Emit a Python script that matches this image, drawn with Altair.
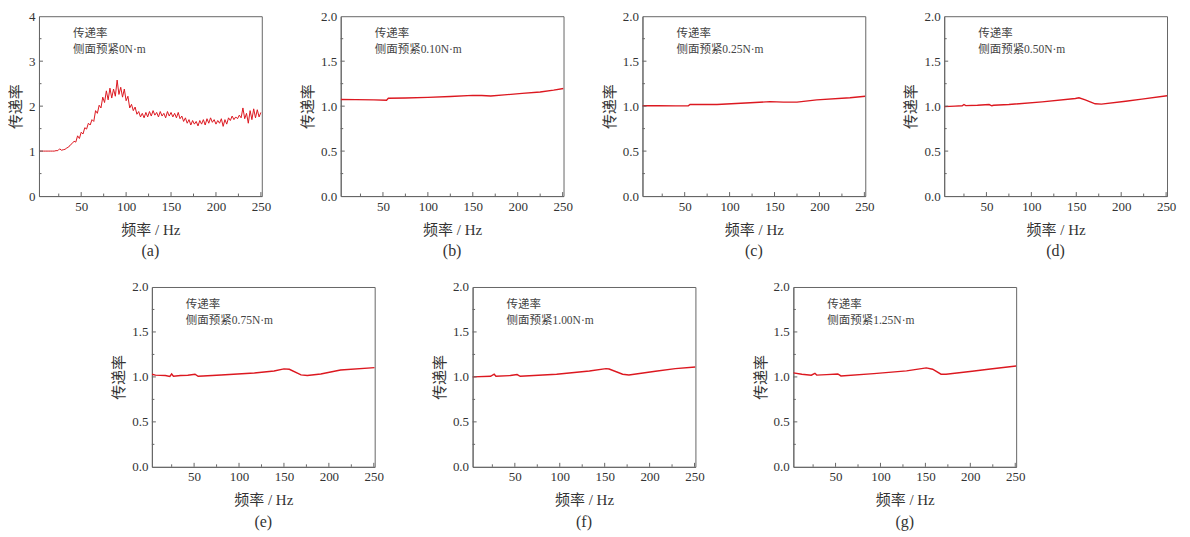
import altair as alt
import pandas as pd

FONT = "Liberation Serif, Noto Sans CJK SC"

# ---------------- data ----------------
fa = list(range(4, 251, 2))
va = [1.00, 1.00, 1.00, 1.00, 1.00, 1.00, 1.00, 1.00, 1.00, 1.01,
      1.01, 1.05, 1.02, 1.03, 1.04, 1.07, 1.09, 1.14, 1.17, 1.22,
      1.20, 1.34, 1.28, 1.42, 1.38, 1.52, 1.49, 1.62, 1.58, 1.70,
      1.66, 1.90, 1.84, 2.02, 1.96, 2.20, 2.08, 2.34, 2.14, 2.40,
      2.18, 2.38, 2.22, 2.58, 2.26, 2.42, 2.20, 2.38, 2.12, 2.22,
      1.96, 2.04, 1.90, 1.98, 1.82, 1.88, 1.76, 1.84, 1.74, 1.86,
      1.76, 1.88, 1.78, 1.90, 1.80, 1.86, 1.76, 1.88, 1.78, 1.84,
      1.74, 1.88, 1.78, 1.86, 1.76, 1.84, 1.74, 1.86, 1.72, 1.78,
      1.66, 1.74, 1.62, 1.70, 1.58, 1.68, 1.60, 1.66, 1.56, 1.68,
      1.60, 1.70, 1.58, 1.72, 1.62, 1.74, 1.64, 1.70, 1.60, 1.68,
      1.62, 1.72, 1.55, 1.70, 1.60, 1.74, 1.68, 1.78, 1.70, 1.76,
      1.72, 1.80, 1.74, 1.96, 1.72, 1.84, 1.62, 1.90, 1.70, 1.94,
      1.74, 1.92, 1.76, 1.86]

fb = [3, 20, 40, 54, 56, 75, 100, 125, 150, 160, 170, 185, 205, 225, 240, 251]
vb = [1.074, 1.072, 1.070, 1.066, 1.087, 1.090, 1.098, 1.108, 1.120, 1.118,
      1.113, 1.125, 1.142, 1.158, 1.178, 1.196]

fc = [3, 20, 40, 54, 56, 86, 123, 145, 160, 175, 197, 234, 251]
vc = [1.005, 1.004, 1.003, 1.003, 1.018, 1.018, 1.037, 1.050, 1.045, 1.045,
      1.070, 1.093, 1.110]

fd = [3, 15, 23, 25, 27, 40, 53, 56, 58, 75, 112, 149, 153, 160, 171, 178,
      205, 223, 251]
vd = [0.995, 1.000, 1.004, 1.018, 1.006, 1.010, 1.018, 1.004, 1.010, 1.018,
      1.048, 1.085, 1.093, 1.070, 1.026, 1.022, 1.055, 1.078, 1.115]

fe = [3, 7, 18, 23, 25, 27, 35, 43, 51, 54.5, 60, 80, 117, 139, 150, 156,
      169, 176, 191, 213, 251]
ve = [1.030, 1.020, 1.015, 1.005, 1.033, 1.008, 1.015, 1.018, 1.030, 1.007,
      1.010, 1.022, 1.044, 1.066, 1.089, 1.085, 1.022, 1.015, 1.033, 1.077,
      1.103]

ff = [3, 23, 27, 29, 45, 52.5, 56, 96.5, 133, 151.5, 155, 170, 177, 206.5,
      228.6, 251]
vf = [1.000, 1.007, 1.030, 1.008, 1.015, 1.026, 1.007, 1.030, 1.066, 1.092,
      1.088, 1.030, 1.022, 1.063, 1.092, 1.110]

fg = [3, 12.5, 23, 27, 29, 40, 52.5, 56, 92.6, 129, 151, 158, 167.4, 173,
      202, 220, 251]
vg = [1.045, 1.030, 1.019, 1.040, 1.020, 1.025, 1.033, 1.011, 1.037, 1.067,
      1.100, 1.085, 1.030, 1.030, 1.063, 1.085, 1.122]

notes = ["传递率\n侧面预紧0N·m", "传递率\n侧面预紧0.10N·m", "传递率\n侧面预紧0.25N·m",
         "传递率\n侧面预紧0.50N·m", "传递率\n侧面预紧0.75N·m",
         "传递率\n侧面预紧1.00N·m", "传递率\n侧面预紧1.25N·m"]
captions = ["(a)", "(b)", "(c)", "(d)", "(e)", "(f)", "(g)"]

x_major = [50, 100, 150, 200, 250]
x_minor = [25, 75, 125, 175, 225]
y_major_a = [1, 2, 3]
y_minor_a = [0.5, 1.5, 2.5, 3.5]
y_major = [0.5, 1.0, 1.5]
y_minor = [0.25, 0.75, 1.25, 1.75]

W, H = 223, 180
AX = "#666666"
RED = "#dc1820"


def panel(f, v, ymax, ymaj, ymin, yfmt, note, cap, sw):
    xs = alt.Scale(domain=[3, 251], nice=False, zero=False)
    ys = alt.Scale(domain=[0, ymax], nice=False, zero=True)
    xax = alt.Axis(values=x_major, title="频率 / Hz", format="d",
                   labelFlush=False)
    yax = alt.Axis(values=[0] + ymaj + [ymax], title="传递率", format=yfmt)
    df = pd.DataFrame({"f": f, "v": v})
    line = alt.Chart(df).mark_line(color=RED, strokeWidth=sw, clip=True).encode(
        x=alt.X("f:Q", scale=xs, axis=xax),
        y=alt.Y("v:Q", scale=ys, axis=yax),
    )
    xticks_maj = alt.Chart(pd.DataFrame({"f": x_major})).mark_rule(
        color=AX, strokeWidth=1).encode(
        x=alt.X("f:Q", scale=xs, axis=xax), y=alt.value(H), y2=alt.value(H - 4))
    xticks_min = alt.Chart(pd.DataFrame({"f": x_minor})).mark_rule(
        color=AX, strokeWidth=1).encode(
        x=alt.X("f:Q", scale=xs, axis=xax), y=alt.value(H), y2=alt.value(H - 2.5))
    yticks_maj = alt.Chart(pd.DataFrame({"v": ymaj})).mark_rule(
        color=AX, strokeWidth=1).encode(
        y=alt.Y("v:Q", scale=ys, axis=yax), x=alt.value(0), x2=alt.value(4))
    yticks_min = alt.Chart(pd.DataFrame({"v": ymin})).mark_rule(
        color=AX, strokeWidth=1).encode(
        y=alt.Y("v:Q", scale=ys, axis=yax), x=alt.value(0), x2=alt.value(2.5))
    txt = alt.Chart(pd.DataFrame({"label": [note]})).mark_text(
        align="left", baseline="top", lineBreak="\n", fontSize=11.5,
        color="#444444", lineHeight=16, font=FONT).encode(
        x=alt.value(34), y=alt.value(12), text="label:N")
    return alt.layer(line, xticks_maj, xticks_min, yticks_maj, yticks_min,
                     txt).properties(
        width=W, height=H,
        title=alt.TitleParams(cap, orient="bottom", fontSize=16,
                              fontWeight="normal", font=FONT, color="#333333",
                              offset=6))


pa = panel(fa, va, 4, y_major_a, y_minor_a, "d", notes[0], captions[0], 1.0)
pb = panel(fb, vb, 2, y_major, y_minor, ".1f", notes[1], captions[1], 1.4)
pc = panel(fc, vc, 2, y_major, y_minor, ".1f", notes[2], captions[2], 1.4)
pd_ = panel(fd, vd, 2, y_major, y_minor, ".1f", notes[3], captions[3], 1.4)
pe = panel(fe, ve, 2, y_major, y_minor, ".1f", notes[4], captions[4], 1.4)
pf = panel(ff, vf, 2, y_major, y_minor, ".1f", notes[5], captions[5], 1.4)
pg = panel(fg, vg, 2, y_major, y_minor, ".1f", notes[6], captions[6], 1.4)

spacer = alt.Chart(pd.DataFrame({"s": [""]})).mark_text().encode(
    text="s:N").properties(width=15, height=H,
                           view=alt.ViewBackground(strokeOpacity=0))

row1 = alt.hconcat(pa, pb, pc, pd_, spacing=79, bounds="flush")
row2 = alt.hconcat(spacer, pe, pf, pg, spacing=98, bounds="flush")

chart = alt.vconcat(row1, row2, spacing=20).properties(
    padding={"left": 0, "top": 1, "right": 5, "bottom": 5},
    background="white",
).configure_view(stroke=AX, strokeWidth=1).configure_axis(
    domainColor=AX, domainWidth=1, ticks=False, grid=False,
    labelFont=FONT, titleFont=FONT, labelFontSize=13, titleFontSize=15,
    labelColor="#333333", titleColor="#333333", labelPadding=4,
    titleFontWeight="normal",
).configure_axisY(titlePadding=5).configure_axisX(titlePadding=9)

chart.save("out.html", embed_options={"renderer": "svg", "actions": False})
